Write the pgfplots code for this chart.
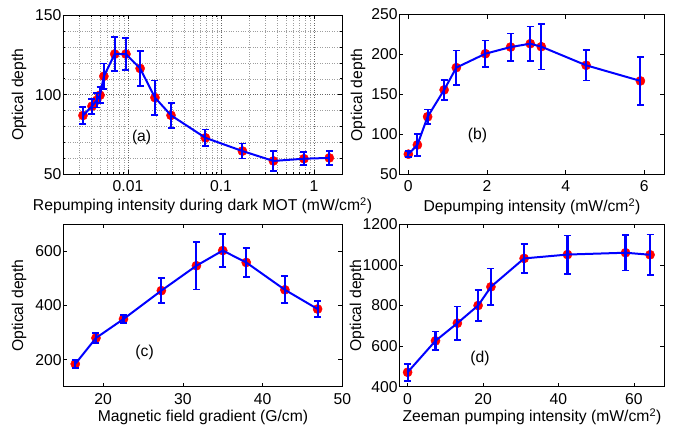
\documentclass[border=0pt]{standalone}
\usepackage{fontspec}
\setmainfont{Liberation Sans}
\usepackage{pgfplots}
\usepackage{pgfplotstable}
\pgfplotsset{compat=1.18}

% x  y  err
\pgfplotstableread{
x y e
0.00328 87.0 5.3
0.0041 92.8 4.7
0.0046 96.5 4.5
0.0050 99.7 5.0
0.0055 111.6 8.0
0.0072 125.5 10.5
0.0095 125.5 10.0
0.0135 116.5 10.8
0.0195 98.2 10.7
0.029 87.1 7.9
0.068 73.0 5.2
0.17 64.7 4.7
0.366 58.5 6.2
0.78 59.9 4.0
1.46 60.4 4.4
}\dataA
\pgfplotstableread{
x y e
0.0 75.4 4.0
0.23 87.0 13.8
0.49 122.2 9.0
0.91 155.8 12.4
1.22 183.6 21.4
1.96 201.0 16.4
2.60 209.3 17.0
3.10 213.5 21.6
3.38 209.8 28.5
4.52 186.5 19.0
5.90 167.0 30.0
}\dataB
\pgfplotstableread{
x y e
16.5 184 14
19.1 280 18
22.55 350 15
27.3 455 47
31.7 547 88
35.0 603 61
37.95 559 53
42.8 458 50
46.9 387 30
}\dataC
\pgfplotstableread{
x y e
0 471 42
7.4 626 46
13.2 713 82
18.7 800 78
22.1 892 90
30.9 1032 70
42.4 1051 94
57.8 1060 88
64.3 1050 100
}\dataD

\def\fs{\fontsize{15.7}{18.5}\selectfont}

\begin{document}
\begin{tikzpicture}[font=\fs]
\useasboundingbox (0pt,0pt) rectangle (685pt,429pt);
\pgfplotsset{
  panel/.style={
    scale only axis, clip=false, clip marker paths=true, scaled ticks=false,
    axis line style={line width=0.7pt},
    every tick/.style={black, line width=0.6pt},
    major tick length=4pt, minor tick length=2.5pt,
    tick label style={font=\fs},
    /pgf/number format/assume math mode=true,
    /pgf/number format/1000 sep={},
    yticklabel style={inner xsep=1.5pt},
    xticklabel style={yshift=-3pt},
    /pgfplots/error bars/error bar style={draw=blue, line width=2.1pt},
    /pgfplots/error bars/error mark options={rotate=90, draw=blue, mark size=3.5pt, line width=1.8pt},
  },
  dots/.style={only marks, mark=*, mark size=4.6pt, color=red},
}

% (a)
\begin{axis}[panel, at={(63pt,254.5pt)}, anchor=south west,
  width=279pt, height=159.5pt,
  xmode=log, xmin=0.002, xmax=2, ymin=50, ymax=150,
  xtick={0.01,0.1,1}, xticklabels={0.01,0.1,1},
  minor xtick={0.002,0.003,0.004,0.005,0.006,0.007,0.008,0.009,0.02,0.03,0.04,0.05,0.06,0.07,0.08,0.09,0.2,0.3,0.4,0.5,0.6,0.7,0.8,0.9,2},
  ytick={50,100,150}, minor ytick={60,70,80,90,110,120,130,140},
  grid=both,
  major grid style={dotted, line width=0.5pt, black!60},
  minor grid style={dotted, line width=0.5pt, black!38}]
\addplot[dots] table[x=x,y=y] {\dataA};
\addplot[blue, line width=2pt, mark=none,
  error bars/.cd, y dir=both, y explicit]
  table[x=x,y=y,y error=e] {\dataA};
\node at (axis cs:0.014,73.5) {(a)};
\end{axis}

% (b)
\begin{axis}[panel, at={(399.3pt,254.5pt)}, anchor=south west,
  width=264.7pt, height=160pt,
  xmin=-0.23, xmax=6.5, ymin=50, ymax=250,
  xtick={0,2,4,6}, ytick={50,100,150,200,250}]
\addplot[dots] table[x=x,y=y] {\dataB};
\addplot[blue, line width=2pt, mark=none,
  error bars/.cd, y dir=both, y explicit]
  table[x=x,y=y,y error=e] {\dataB};
\node at (axis cs:1.76,98.5) {(b)};
\end{axis}

% (c)
\begin{axis}[panel, at={(63.3pt,42.3pt)}, anchor=south west,
  width=279pt, height=162.4pt,
  xmin=15, xmax=50, ymin=100, ymax=700,
  xtick={20,30,40,50}, ytick={200,400,600}]
\addplot[dots] table[x=x,y=y] {\dataC};
\addplot[blue, line width=2pt, mark=none,
  error bars/.cd, y dir=both, y explicit]
  table[x=x,y=y,y error=e] {\dataC};
\node at (axis cs:25.2,225) {(c)};
\end{axis}

% (d)
\begin{axis}[panel, at={(399.3pt,42.3pt)}, anchor=south west,
  width=264.7pt, height=162.4pt,
  xmin=-2.2, xmax=68, ymin=400, ymax=1200,
  xtick={0,20,40,60}, ytick={400,600,800,1000,1200}]
\addplot[dots] table[x=x,y=y] {\dataD};
\addplot[blue, line width=2pt, mark=none,
  error bars/.cd, y dir=both, y explicit]
  table[x=x,y=y,y error=e] {\dataD};
\node at (axis cs:19.2,538) {(d)};
\end{axis}

\node[rotate=90] at (19pt,334.3pt) {Optical depth};
\node at (202.5pt,223pt) {Repumping intensity during dark MOT (mW/cm\textsuperscript{2})};
\node[rotate=90] at (358pt,334pt) {Optical depth};
\node at (532pt,222.5pt) {Depumping intensity (mW/cm\textsuperscript{2})};
\node[rotate=90] at (19pt,123.5pt) {Optical depth};
\node at (203pt,12pt) {Magnetic field gradient (G/cm)};
\node[rotate=90] at (357pt,123.5pt) {Optical depth};
\node at (532pt,12.5pt) {Zeeman pumping intensity (mW/cm\textsuperscript{2})};
\end{tikzpicture}
\end{document}
